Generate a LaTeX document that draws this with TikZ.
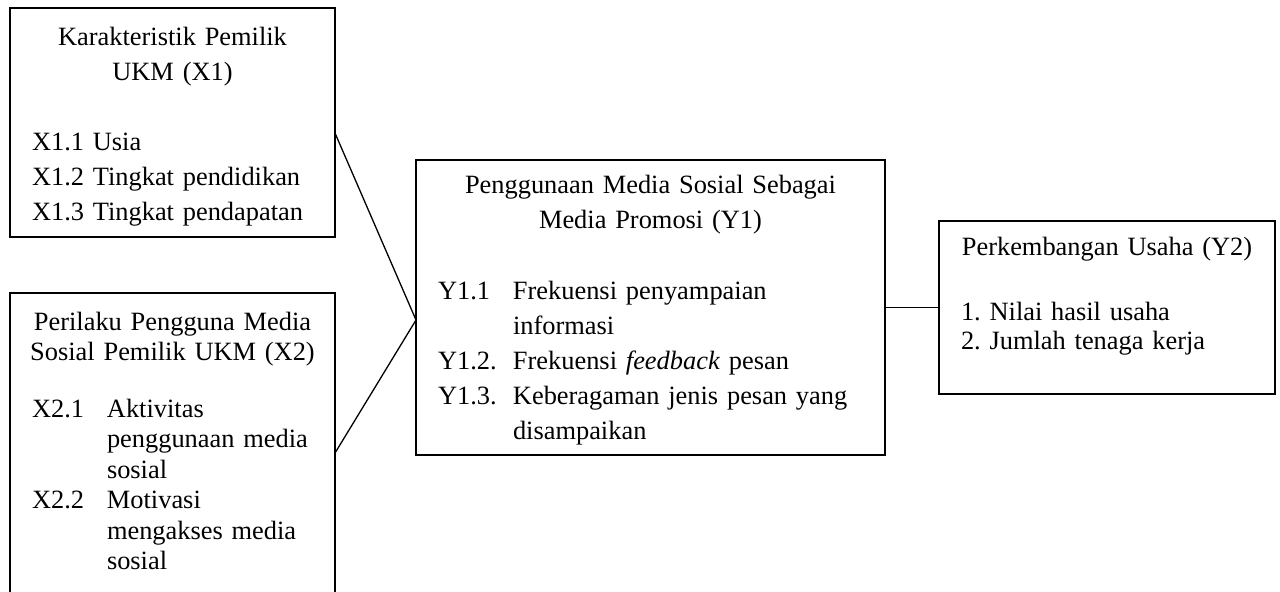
\documentclass[tikz,border=0pt]{standalone}
\usepackage{fontspec}
\setmainfont{Liberation Serif}
\usetikzlibrary{positioning,calc}
\frenchspacing

\begin{document}
\begin{tikzpicture}[
    varbox/.style={draw,line width=1pt,anchor=north west,align=left,inner xsep=8pt,inner ysep=0pt,outer sep=0pt,text width=#1},
    loose/.style={font=\fontsize{13.2}{17.5}\selectfont},
    tight/.style={font=\fontsize{13.2}{15.2}\selectfont},
    link/.style={line width=0.65pt}]
    \useasboundingbox (0,0) rectangle (640pt,-295.5pt);
    \clip (0,0) rectangle (640pt,-295.5pt);

    \node[varbox=146.5pt,loose,text height=18.5pt,text depth=96pt] (X1) at (5pt,-4pt)
      {{\centering Karakteristik Pemilik\\UKM (X1)\par}\vspace{17.5pt}
       \begin{tabular}[t]{@{\hspace{3pt}}l@{}}X1.1 Usia\\X1.2 Tingkat pendidikan\\X1.3 Tingkat pendapatan\end{tabular}};
    \node[varbox=146.5pt,tight,text height=18.5pt,text depth=135pt] (X2) [below=28pt of X1]
      {{\centering Perilaku Pengguna Media\\Sosial Pemilik UKM (X2)\par}\vspace{13.3pt}
       \begin{tabular}[t]{@{\hspace{3pt}}p{37.5pt}@{}l@{}}X2.1 & Aktivitas\\ & penggunaan media\\ & sosial\\X2.2 & Motivasi\\ & mengakses media\\ & sosial\end{tabular}};
    \node[varbox=218.5pt,loose,text height=16.5pt,text depth=131pt] (Y1) at (208pt,-80pt)
      {{\centering Penggunaan Media Sosial Sebagai\\Media Promosi (Y1)\par}\vspace{18pt}
       \begin{tabular}[t]{@{\hspace{3pt}}p{37.5pt}@{}l@{}}Y1.1 & Frekuensi penyampaian\\ & informasi\\Y1.2. & Frekuensi \textit{feedback} pesan\\Y1.3. & Keberagaman jenis pesan yang\\ & disampaikan\end{tabular}};
    \node[varbox=152pt,font=\fontsize{13.2}{14.5}\selectfont,text height=17pt,text depth=69.5pt] (Y2) [right=27pt of Y1]
      {{\centering Perkembangan Usaha (Y2)\par}\vspace{18pt}
       \begin{tabular}[t]{@{\hspace{3pt}}l@{}}1. Nilai hasil usaha\\2. Jumlah tenaga kerja\end{tabular}};

    \coordinate (x1out) at ($(X1.north east)!0.546!(X1.south east)$);
    \coordinate (x2out) at ([yshift=-80pt]X2.north east);
    \coordinate (join) at ([yshift=-80pt]Y1.north west);

    \draw[link] (x1out) -- (join);
    \draw[link] (x2out) -- (join);
    \draw[link] (Y1) -- (Y2);
\end{tikzpicture}
\end{document}
